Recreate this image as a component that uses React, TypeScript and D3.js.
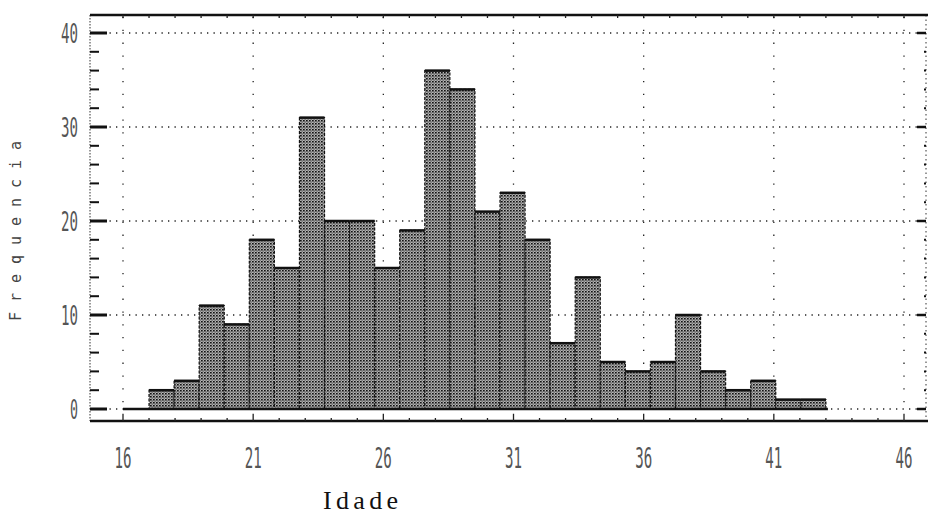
import React from "react";
import * as d3 from "d3";

// ---- data ----
const binLo = 17;
const binHi = 43;
const counts = [2, 3, 11, 9, 18, 15, 31, 20, 20, 15, 19, 36, 34, 21, 23, 18, 7, 14, 5, 4, 5, 10, 4, 2, 3, 1, 1];
const xTicks = [16, 21, 26, 31, 36, 41, 46];
const yTicks = [0, 10, 20, 30, 40];
const xLabel = "Idade";
const yLabel = "Frequencia";

const W = 928;
const H = 516;

export default function App() {
  const x = d3.scaleLinear().domain([16, 46]).range([123, 904]);
  const y = d3.scaleLinear().domain([0, 40]).range([409, 33]);
  const frameL = 90;
  const frameR = 926;
  const frameT = 15;
  const frameB = 421;
  const bw = (binHi - binLo) / counts.length;
  const bins = counts.map((c, i) => ({ x0: binLo + i * bw, x1: binLo + (i + 1) * bw, c }));
  const unitTicks = d3.range(16, 47, 1);
  const minorY = d3.range(0, 41, 2);
  const digitFont = "DejaVu Sans Mono";

  return (
    <svg width={W} height={H} style={{ position: "absolute", left: 0, top: 0, background: "#fff" }}>
      <defs>
        <pattern id="stip" width="3" height="3" patternUnits="userSpaceOnUse">
          <rect width="3" height="3" fill="#b4b4b4" />
          <rect x="0" y="0" width="1.7" height="1.5" fill="#111" />
          <rect x="1.5" y="1.5" width="1.3" height="1.1" fill="#444" />
        </pattern>
      </defs>

      {/* grid */}
      {yTicks.map((t) => (
        <line key={"gy" + t} x1={frameL} x2={frameR} y1={y(t)} y2={y(t)} stroke="#222" strokeWidth={1.3} strokeDasharray="1.3 5.2" />
      ))}
      {xTicks.map((t) => (
        <line key={"gx" + t} x1={x(t)} x2={x(t)} y1={frameT + 2} y2={frameB} stroke="#222" strokeWidth={1.3} strokeDasharray="1.3 11.5" />
      ))}

      {/* bars */}
      {bins.map((b, i) => (
        <g key={"b" + i}>
          <rect x={x(b.x0)} y={y(b.c)} width={x(b.x1) - x(b.x0)} height={y(0) - y(b.c)} fill="url(#stip)" stroke="#111" strokeWidth={1.2} strokeDasharray="3 1.5" />
          <line x1={x(b.x0)} x2={x(b.x1)} y1={y(b.c)} y2={y(b.c)} stroke="#111" strokeWidth={2.5} />
        </g>
      ))}
      {/* base line */}
      <line x1={x(16)} x2={x(binHi) + 2} y1={y(0)} y2={y(0)} stroke="#111" strokeWidth={2.5} />

      {/* frame */}
      <line x1={frameL} x2={frameL} y1={frameT} y2={frameB} stroke="#333" strokeWidth={1} strokeDasharray="1.5 1.5" />
      <line x1={frameR} x2={frameR} y1={frameT} y2={frameB} stroke="#333" strokeWidth={1} strokeDasharray="1.5 3" />
      <line x1={frameL} x2={W} y1={frameT} y2={frameT} stroke="#111" strokeWidth={2.5} />
      <line x1={frameL} x2={W} y1={frameB} y2={frameB} stroke="#111" strokeWidth={2.5} />

      {/* left ticks */}
      {minorY.map((t) => {
        const major = t % 10 === 0;
        return (
          <line key={"ly" + t} x1={frameL} x2={frameL + (major ? 17 : 9)} y1={y(t)} y2={y(t)} stroke="#111" strokeWidth={major ? 3 : 2} />
        );
      })}
      {/* right ticks */}
      {minorY.map((t) => {
        const major = t % 10 === 0;
        return (
          <line key={"ry" + t} x1={frameR - (major ? 9 : 2)} x2={frameR} y1={y(t)} y2={y(t)} stroke="#111" strokeWidth={major ? 2.5 : 2} />
        );
      })}
      {/* top & bottom unit ticks */}
      {unitTicks.map((t) => (
        <g key={"ux" + t}>
          <line x1={x(t)} x2={x(t)} y1={frameT} y2={frameT + 3} stroke="#222" strokeWidth={1.3} />
          <line x1={x(t)} x2={x(t)} y1={frameB} y2={frameB - (t % 5 === 1 ? 6 : 3)} stroke="#222" strokeWidth={1.3} />
        </g>
      ))}

      {/* y tick labels */}
      {yTicks.map((t) => {
        const s = String(t);
        return (
          <text key={"ty" + t} x={78} y={y(t) + 10} textAnchor="end" fontFamily={digitFont} fontSize={27} fill="#555"
            textLength={s.length * 8 + (s.length - 1) * 1} lengthAdjust="spacingAndGlyphs">
            {s}
          </text>
        );
      })}
      {/* x tick labels */}
      {xTicks.map((t) => {
        const s = String(t);
        return (
          <text key={"tx" + t} x={x(t)} y={468} textAnchor="middle" fontFamily={digitFont} fontSize={28} fill="#555"
            textLength={17} lengthAdjust="spacingAndGlyphs">
            {s}
          </text>
        );
      })}

      {/* axis titles */}
      <text x={323} y={509} fontFamily="Liberation Serif" fontSize={26} fill="#111" textLength={75} lengthAdjust="spacing">
        {xLabel}
      </text>
      <text transform="translate(21,231) rotate(-90)" textAnchor="middle" fontFamily={digitFont} fontSize={15} fill="#444"
        textLength={180} lengthAdjust="spacing">
        {yLabel}
      </text>
    </svg>
  );
}
